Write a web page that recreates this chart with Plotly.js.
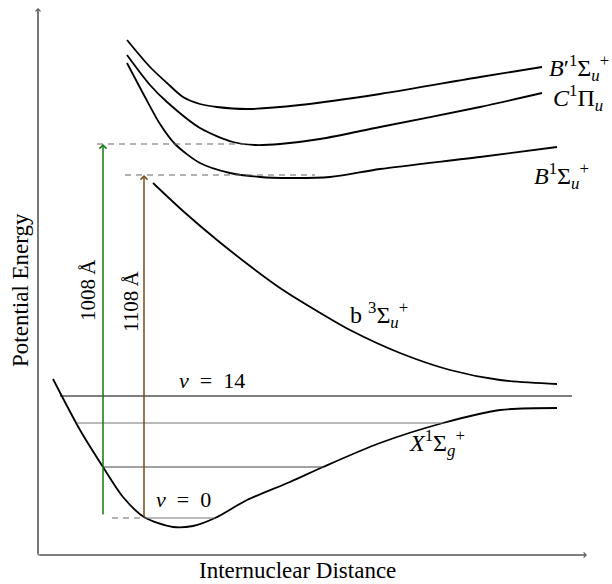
<!DOCTYPE html>
<html>
<head>
<meta charset="utf-8">
<script src="https://cdn.plot.ly/plotly-3.0.1.min.js"></script>
<style>html,body{margin:0;padding:0;background:#fff}#chart{width:612px;height:584px}</style>
</head>
<body>
<div id="chart"></div>
<script>
// Schematic potential energy curves (arbitrary units): R = internuclear distance, E = energy
const bPrimeR = [89,112,129,145,162,179,209,262,342,442,504];
const bPrimeE = [515,488,472,458,451,448,446,450,461,478,488];
const cPiR = [89,112,129,162,195,217,242,282,342,442,504];
const cPiE = [500,470,453,427,413,410,411,416,428,448,462];
const bSigR = [89,107,122,137,162,192,222,252,292,342,442,519];
const bSigE = [492,458,431,411,392,382,378,377,378,386,398,408];
const tripR = [115,145,179,212,245,279,312,362,412,462,519];
const tripE = [372,344,315,289,265,244,225,202,185,175,171];
const groundR = [15,42,65,85,106,135,155,177,209,252,285,342,405,462,519];
const groundE = [176,125,88,58,38,28,29,37,55,73,88,112,132,145,147];

// Vibrational levels
const levelNames = ["v14", "v_mid", "v_low", "v0"];
const levelStart = [22, 39, 65, 106];
const levelEnd = [534, 405, 285, 177];
const levelE = [159, 132, 88, 37];
const levelColor = ["#000000", "#777777", "#444444", "#777777"];

// Transitions
const transNames = ["1008\u2009Å", "1108\u2009Å"];
const transR = [65, 106];
const transFrom = [39, 37];
const transTo = [411, 380];
const transColor = ["#137a13", "#7a4a14"];
// dashed guide lines
const guideStart = [59, 87, 74];
const guideEnd = [207, 277, 106];
const guideE = [411, 380, 37];

const axisEndR = 549, axisEndE = 547;

const serif = "Liberation Serif, DejaVu Serif, serif";
const traces = [];
function curve(x, y, w) {
  traces.push({x: x, y: y, type: "scatter", mode: "lines",
    line: {color: "#000", width: w, shape: "spline", smoothing: 0.8}, hoverinfo: "skip"});
}
curve(bPrimeR, bPrimeE, 1.8);
curve(cPiR, cPiE, 1.8);
curve(bSigR, bSigE, 1.8);
curve(tripR, tripE, 1.8);
curve(groundR, groundE, 1.8);
for (let i = 0; i < levelE.length; i++) {
  traces.push({x: [levelStart[i], levelEnd[i]], y: [levelE[i], levelE[i]], type: "scatter", mode: "lines",
    line: {color: levelColor[i], width: 1.2}, hoverinfo: "skip"});
}
for (let i = 0; i < guideE.length; i++) {
  traces.push({x: [guideStart[i], guideEnd[i]], y: [guideE[i], guideE[i]], type: "scatter", mode: "lines",
    line: {color: "#666", width: 1.1, dash: "6px,5px"}, hoverinfo: "skip"});
}

const ann = [];
ann.push({x: 0, y: axisEndE, ax: 0, ay: 0, xref: "x", yref: "y", axref: "x", ayref: "y",
  showarrow: true, arrowhead: 4, arrowsize: 0.9, arrowwidth: 1.1, arrowcolor: "#555", text: ""});
ann.push({x: axisEndR, y: 0, ax: 0, ay: 0, xref: "x", yref: "y", axref: "x", ayref: "y",
  showarrow: true, arrowhead: 4, arrowsize: 0.9, arrowwidth: 1.1, arrowcolor: "#555", text: ""});
for (let i = 0; i < transR.length; i++) {
  ann.push({x: transR[i], y: transTo[i], ax: transR[i], ay: transFrom[i], xref: "x", yref: "y", axref: "x", ayref: "y",
    showarrow: true, arrowhead: 4, arrowsize: 0.9, arrowwidth: 1.5, arrowcolor: transColor[i], text: ""});
}
function label(text, x, y, size, opts) {
  ann.push(Object.assign({x: x, y: y, xref: "x", yref: "y", text: text, showarrow: false,
    font: {family: serif, size: size, color: "#000"}}, opts || {}));
}
const nb = "\u00A0\u00A0";
label("Potential Energy", -18, 265, 23, {textangle: -90});
label("Internuclear Distance", 259, -15, 23);
label("<i>B</i>′<sup>1</sup>Σ<sub><i>u</i></sub><sup>+</sup>", 509, 487, 24, {xanchor: "left"});
label("<i>C</i><sup>1</sup>Π<sub><i>u</i></sub>", 513, 457, 24, {xanchor: "left"});
label("<i>B</i><sup>1</sup>Σ<sub><i>u</i></sub><sup>+</sup>", 494, 379, 24, {xanchor: "left"});
label("b <sup>3</sup>Σ<sub><i>u</i></sub><sup>+</sup>", 310, 240, 24, {xanchor: "left"});
label("<i>X</i><sup>1</sup>Σ<sub><i>g</i></sub><sup>+</sup>", 369, 112, 24, {xanchor: "left"});
label("<i>ν</i>" + nb + "=" + nb + "14", 174, 175, 22);
label("<i>ν</i>" + nb + "=" + nb + "0", 145, 56, 22);
label(transNames[0], 50, 265, 21, {textangle: -90});
label(transNames[1], 93, 253, 21, {textangle: -90});

const shapes = [
  {type: "line", xref: "x", yref: "y", x0: 0, y0: 0, x1: 0, y1: axisEndE - 2, line: {color: "#555", width: 1.1}},
  {type: "line", xref: "x", yref: "y", x0: 0, y0: 0, x1: axisEndR - 2, y1: 0, line: {color: "#555", width: 1.1}}
];

const layout = {
  width: 612, height: 584,
  margin: {l: 0, r: 0, t: 0, b: 0},
  paper_bgcolor: "#fff", plot_bgcolor: "#fff",
  showlegend: false,
  xaxis: {range: [-38, 574], visible: false, fixedrange: true},
  yaxis: {range: [-29, 555], visible: false, fixedrange: true},
  annotations: ann,
  shapes: shapes
};
Plotly.newPlot("chart", traces, layout, {displayModeBar: false, staticPlot: true});
</script>
</body>
</html>
